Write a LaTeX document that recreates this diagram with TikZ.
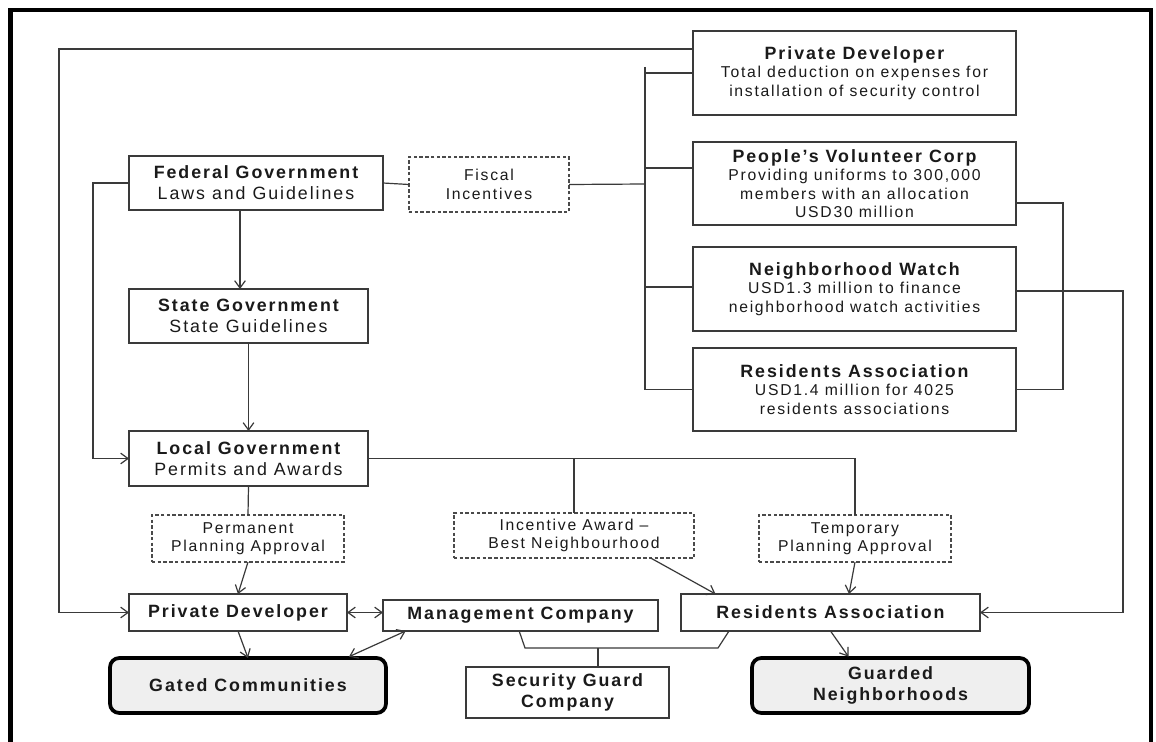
\documentclass[tikz,border=0pt]{standalone}
\usepackage{fontspec}
\setmainfont{Liberation Sans}[LetterSpace=11]
\usetikzlibrary{arrows.meta}

\definecolor{linegray}{HTML}{3A3A3A}
\definecolor{dashgray}{HTML}{4A4A4A}
\definecolor{softfill}{HTML}{EFEFEF}
\definecolor{inkgray}{HTML}{1A1A1A}

\newcommand{\bighead}{\bfseries\fontsize{13.35}{15.75}\selectfont}
\newcommand{\bigbody}{\fontsize{13.35}{15.75}\selectfont}
\newcommand{\smallbody}{\fontsize{11.8}{13.75}\selectfont}

\tikzset{
  box/.style={draw=linegray, line width=1.1pt, fill=white, inner sep=0pt,
    outer sep=0pt, align=center, text=inkgray},
  govbox/.style={box, font=\bigbody},
  infobox/.style={box, font=\smallbody, minimum width=242.25pt},
  notebox/.style={draw=dashgray, line width=0.8pt, dash pattern=on 2.6pt off 1.7pt,
    fill=white, inner sep=0pt, outer sep=0pt, align=center, text=inkgray,
    font=\smallbody},
  actorbox/.style={box, font=\bighead},
  outcome/.style={draw=black, line width=2.8pt, rounded corners=7pt, fill=softfill,
    inner sep=0pt, outer sep=0pt, align=center, text=inkgray, font=\bighead},
  link/.style={draw=linegray, line width=0.9pt},
  arr/.style={link, -{Straight Barb[length=5.5pt,width=8pt,line width=0.9pt]}},
  dbl/.style={link, {Straight Barb[length=5.5pt,width=8pt,line width=0.9pt]}-{Straight Barb[length=5.5pt,width=8pt,line width=0.9pt]}},
}

\begin{document}
\begin{tikzpicture}[x=0.75pt,y=-0.75pt]
\useasboundingbox (0,0) rectangle (1156,742);
\fill[white] (0,0) rectangle (1156,742);

% open frame around the chart
\draw[line width=3.5pt, black, line join=miter] (10.5,742) -- (10.5,10) -- (1151,10) -- (1151,742);

% government tiers
\node[govbox, minimum width=190.5pt, minimum height=40.5pt] (fed) at (256,183)
  {{\bighead Federal Government}\\Laws and Guidelines};
\node[govbox, minimum width=179.25pt, minimum height=40.5pt] (state) at (248.5,316)
  {{\bighead State Government}\\State Guidelines};
\node[govbox, minimum width=179.25pt, minimum height=41.25pt] (local) at (248.5,458.5)
  {{\bighead Local Government}\\Permits and Awards};

% fiscal incentive programmes
\node[notebox, minimum width=120pt, minimum height=41.25pt] (fiscal) at (489,184.5)
  {Fiscal\\Incentives};
\node[infobox, minimum height=63pt] (pdtop) at (854.5,73)
  {{\bighead Private Developer}\\Total deduction on expenses for\\installation of security control};
\node[infobox, minimum height=62.25pt] (pvc) at (854.5,183.5)
  {{\bighead People's Volunteer Corp}\\Providing uniforms to 300,000\\members with an allocation\\USD30 million};
\node[infobox, minimum height=63pt] (nw) at (854.5,289)
  {{\bighead Neighborhood Watch}\\USD1.3 million to finance\\neighborhood watch activities};
\node[infobox, minimum height=62.25pt] (ratop) at (854.5,389.5)
  {{\bighead Residents Association}\\USD1.4 million for 4025\\residents associations};

% approvals and awards
\node[notebox, minimum width=144pt, minimum height=35.25pt] (ppa) at (248,538.5)
  {Permanent\\Planning Approval};
\node[notebox, minimum width=180pt, minimum height=33.75pt] (inc) at (574,535.5)
  {Incentive Award –\\Best Neighbourhood};
\node[notebox, minimum width=144pt, minimum height=35.25pt] (tpa) at (855,538.5)
  {Temporary\\Planning Approval};

% actors
\node[actorbox, minimum width=163.5pt, minimum height=27.75pt] (pd) at (238,612.5)
  {Private Developer};
\node[actorbox, minimum width=206.25pt, minimum height=23.25pt] (mc) at (520.5,615.5)
  {Management Company};
\node[actorbox, minimum width=224.25pt, minimum height=27.75pt] (ra) at (830.5,612.5)
  {Residents Association};
\node[actorbox, minimum width=152.25pt, minimum height=38.25pt] (sgc) at (567.5,692.5)
  {Security Guard\\Company};

% outcomes
\node[outcome, minimum width=207pt, minimum height=41.25pt] (gc) at (248,685.5)
  {Gated Communities};
\node[outcome, minimum width=207.75pt, minimum height=41.25pt] (gn) at (890.5,685.5)
  {Guarded\\Neighborhoods};

% helper points
\coordinate (lrail) at (59,612.5);
\coordinate (bustop) at (645,67);
\coordinate (busjoin) at (645,184);
\coordinate (jl) at (525,648);
\coordinate (jr) at (718,648);

% federal to lower tiers
\draw[arr] ([xshift=-12pt]fed.south) -- ([xshift=-12pt]fed.south |- state.north);
\draw[arr] (state.south) -- (local.north);
\draw[arr] (fed.west) -- ++(-36,0) |- (local.west);

% top developer programme feeds the developer directly
\draw[arr] ([yshift=18pt]pdtop.west) -| (lrail) -- (pd.west);

% fiscal incentives bus
\draw[link] (fed.east) -- (fiscal.west);
\draw[link] (fiscal.east) -- (busjoin);
\draw[link] (bustop) |- (ratop.west);
\draw[link] (bustop |- pdtop.west) -- (pdtop.west);
\draw[link] ([yshift=11.6pt]pvc.west) -- ++(-48,0);
\draw[link] ([yshift=1.5pt]nw.west) -- ++(-48,0);

% right-hand links
\draw[link] ([yshift=-14.6pt]pvc.east) -- ++(47,0) |- (ratop.east);
\draw[arr] ([yshift=-1.5pt]nw.east) -- ++(107,0) |- (ra.east);

% local government approvals
\draw[link] (local.east) -| (tpa.north);
\draw[link] (inc.north |- local.east) -- (inc.north);
\draw[link] (local.south) -- (ppa.north);
\draw[arr] (ppa.south) -- (pd.north);
\draw[arr] ([xshift=-32.5pt]inc.south east) -- ([xshift=25.9pt]ra.north west);
\draw[arr] (tpa.south) -- ([xshift=13.9pt]ra.north);

% actors to outcomes
\draw[dbl] (pd.east) -- (pd.east -| mc.west);
\draw[arr] (pd.south) -- (gc.north);
\draw[dbl] ([xshift=17pt]mc.south west) -- ([xshift=-27.75pt,yshift=1pt]gc.north east);
\draw[arr] (ra.south) -- ([xshift=-31.5pt,yshift=1pt]gn.north);

% security guard company shared by both sides
\draw[link] ([xshift=-1pt]mc.south) -- (jl) -- (jr) -- ([xshift=36pt]ra.south west);
\draw[link] ([xshift=22.9pt]sgc.north |- jl) -- ([xshift=22.9pt]sgc.north);

\end{tikzpicture}
\end{document}
